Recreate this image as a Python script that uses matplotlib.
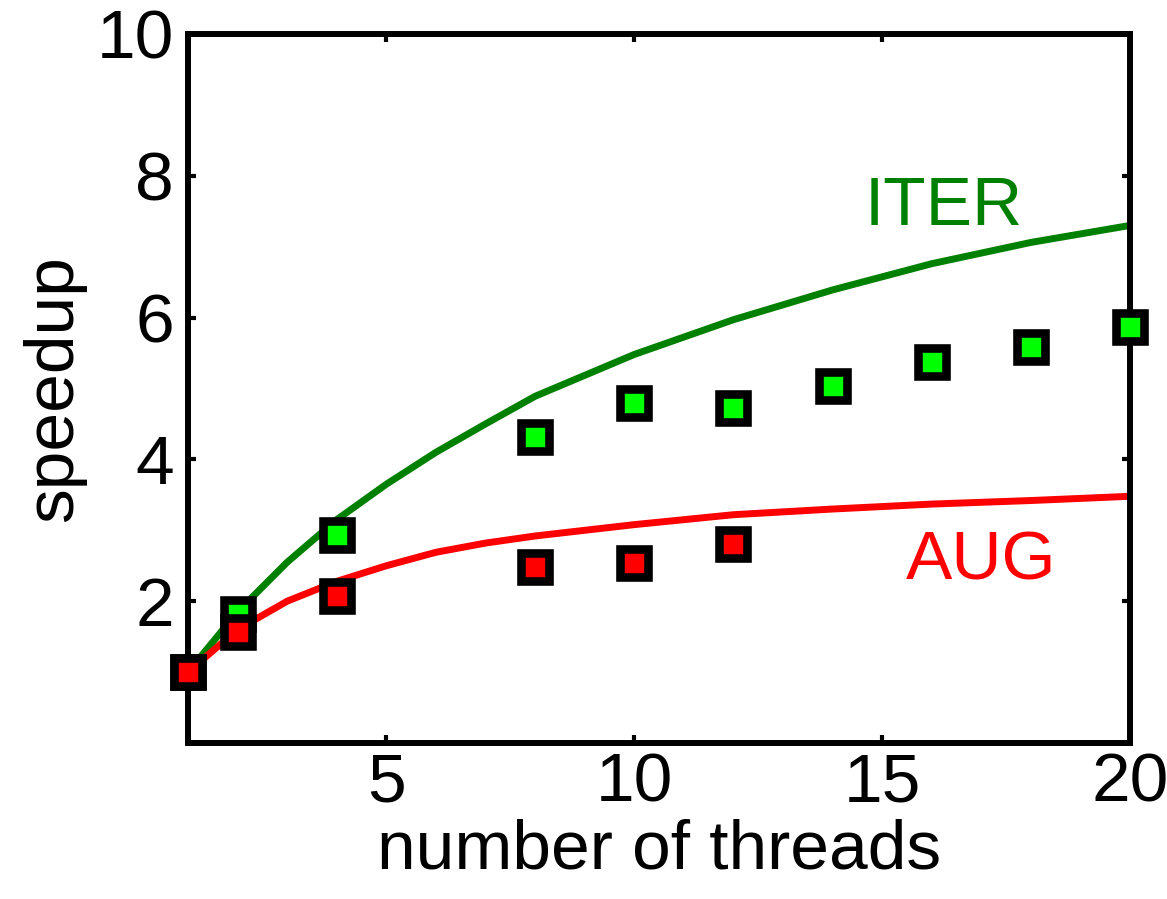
import matplotlib
matplotlib.use("Agg")
import matplotlib.pyplot as plt

plt.rcParams['font.family'] = ['Liberation Sans', 'DejaVu Sans']

# model curves (ideal speedup per thread count)
threads_model = [1, 2, 3, 4, 5, 6, 7, 8, 10, 12, 14, 16, 18, 20]
iter_model = [1.0, 1.85, 2.55, 3.15, 3.65, 4.1, 4.5, 4.89, 5.48, 5.97, 6.39, 6.76, 7.06, 7.3]
aug_model = [1.0, 1.6, 2.0, 2.28, 2.5, 2.69, 2.82, 2.92, 3.08, 3.22, 3.3, 3.37, 3.42, 3.48]

# measured speedups
iter_threads = [1, 2, 4, 8, 10, 12, 14, 16, 18, 20]
iter_measured = [1.0, 1.82, 2.94, 4.32, 4.8, 4.72, 5.04, 5.38, 5.58, 5.87]
aug_threads = [1, 2, 4, 8, 10, 12]
aug_measured = [1.0, 1.56, 2.07, 2.48, 2.54, 2.8]

xticks = [5, 10, 15, 20]
yticks = [2, 4, 6, 8, 10]

fig = plt.figure(figsize=(11.67, 8.99), dpi=100)
ax = fig.add_axes([0.1611, 0.1735, 0.8072, 0.7887])

ax.plot(threads_model, iter_model, color='#008000', lw=5, zorder=2)
ax.plot(threads_model, aug_model, color='#ff0000', lw=5, zorder=2)

ms = 19.5
mew = 6.2
ax.plot(iter_threads, iter_measured, ls='none', marker='s', ms=ms, mew=mew,
        mfc='#00ff00', mec='black', zorder=3, clip_on=False)
ax.plot(aug_threads, aug_measured, ls='none', marker='s', ms=ms, mew=mew,
        mfc='#ff0000', mec='black', zorder=4, clip_on=False)

ax.text(16.24, 7.31, 'ITER', color='#008000', fontsize=50, ha='center', va='baseline')
ax.text(17.0, 2.31, 'AUG', color='#ff0000', fontsize=50, ha='center', va='baseline')

ax.set_xlim(1, 20)
ax.set_ylim(0, 10)
ax.set_xticks(xticks)
ax.set_yticks(yticks)
ax.tick_params(direction='in', length=6, width=3, labelsize=50,
               top=True, right=True)
ax.tick_params(axis='x', pad=6)
ax.tick_params(axis='y', pad=10)
for sp in ax.spines.values():
    sp.set_linewidth(4.3)

ax.set_xlabel('number of threads', fontsize=50, labelpad=2)
ax.set_ylabel('speedup', fontsize=50, labelpad=8)

fig.savefig('out.png', dpi=100)
